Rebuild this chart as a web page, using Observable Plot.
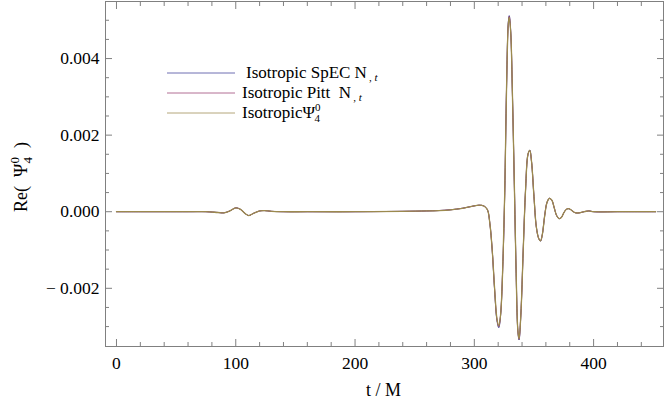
<!DOCTYPE html>
<html>
<head>
<meta charset="utf-8">
<script src="https://cdn.jsdelivr.net/npm/d3@7"></script>
<script src="https://cdn.jsdelivr.net/npm/@observablehq/plot@0.6"></script>
<style>
  html, body { margin: 0; padding: 0; background: #fff; }
  #chart { width: 664px; height: 401px; }
</style>
</head>
<body>
<div id="chart"></div>
<script>
// ---- data ----
const seriesNames = ["Isotropic SpEC N,t", "Isotropic Pitt N,t", "Isotropic Ψ40"];
const seriesColors = ["#3d3d99", "#993d71", "#9c8a4e"];

const tM = [0, 20, 40, 60, 75, 85, 90, 95, 100, 104, 108, 111, 115, 120, 124, 130, 140, 160, 200, 240, 260, 270, 280, 290, 298, 304, 308, 311, 313, 315, 317, 319, 320.5, 322, 324, 325.5, 327, 328.5, 329.3, 330.5, 332, 333.5, 335, 336.5, 337.5, 339, 341, 343, 345, 346.5, 348, 350, 352, 354, 355.5, 357, 359, 361, 363, 365, 367, 369, 371, 373, 375, 377, 379, 381, 383, 385, 388, 392, 396, 400, 420, 452];

const spec = [0, 0, 0, 0, 0, -0.00002, -0.00003, 0.00002, 0.0001, 0.00006, -0.00005, -0.0001, -0.00004, 0.00002, 0.00003, 0.00001, 0, 0, 0, 0.00001, 0.00002, 0.00003, 0.00005, 0.00009, 0.00014, 0.00017, 0.00015, 0.00005, -0.0003, -0.001, -0.00205, -0.00285, -0.00303, -0.00272, -0.0013, 0.0005, 0.00322, 0.00495, 0.00512, 0.00472, 0.0030, 0.0008, -0.0015, -0.00312, -0.00335, -0.0027, -0.001, 0.0006, 0.0015, 0.00161, 0.0013, 0.0004, -0.0004, -0.0007, -0.00077, -0.0006, -0.0001, 0.00025, 0.00035, 0.0003, 0.0001, -0.0001, -0.00018, -0.00015, -0.00003, 0.00006, 0.00008, 0.00005, 0, -0.00003, -0.00003, 0, 0.00002, 0, 0, 0];

const pitt = [0, 0, 0, 0, 0, -0.00002, -0.00003, 0.00002, 0.0001, 0.00006, -0.00005, -0.0001, -0.00004, 0.00002, 0.00003, 0.00001, 0, 0, 0, 0.00001, 0.00002, 0.00003, 0.00005, 0.00009, 0.00014, 0.00017, 0.00015, 0.00005, -0.0003, -0.001, -0.00202, -0.00282, -0.003, -0.0027, -0.0013, 0.0005, 0.0032, 0.00492, 0.0051, 0.0047, 0.0030, 0.0008, -0.0015, -0.0031, -0.00333, -0.0027, -0.001, 0.0006, 0.0015, 0.0016, 0.0013, 0.0004, -0.0004, -0.0007, -0.00076, -0.0006, -0.0001, 0.00025, 0.00035, 0.0003, 0.0001, -0.0001, -0.00018, -0.00015, -0.00003, 0.00006, 0.00008, 0.00005, 0, -0.00003, -0.00003, 0, 0.00002, 0, 0, 0];

const psi4 = [0, 0, 0, 0, 0, -0.00002, -0.00003, 0.00002, 0.0001, 0.00006, -0.00005, -0.0001, -0.00004, 0.00002, 0.00003, 0.00001, 0, 0, 0, 0.00001, 0.00002, 0.00003, 0.00005, 0.00009, 0.00014, 0.00017, 0.00015, 0.00005, -0.0003, -0.001, -0.002, -0.0028, -0.00298, -0.0027, -0.0013, 0.0005, 0.0032, 0.0049, 0.00508, 0.0047, 0.0030, 0.0008, -0.0015, -0.0031, -0.00332, -0.0027, -0.001, 0.0006, 0.0015, 0.0016, 0.0013, 0.0004, -0.0004, -0.0007, -0.00076, -0.0006, -0.0001, 0.00025, 0.00035, 0.0003, 0.0001, -0.0001, -0.00018, -0.00015, -0.00003, 0.00006, 0.00008, 0.00005, 0, -0.00003, -0.00003, 0, 0.00002, 0, 0, 0];

const xMajor = [0, 100, 200, 300, 400];
const xMajorLabels = ["0", "100", "200", "300", "400"];
const xMinor = [20, 40, 60, 80, 120, 140, 160, 180, 220, 240, 260, 280, 320, 340, 360, 380, 420, 440];
const yMajor = [-0.002, 0, 0.002, 0.004];
const yMajorLabels = ["\u2212 0.002", "0.000", "0.002", "0.004"];
const yMinor = [-0.003, -0.0025, -0.0015, -0.001, -0.0005, 0.0005, 0.001, 0.0015, 0.0025, 0.003, 0.0035, 0.0045, 0.005];

// ---- build table ----
const rows = [];
[spec, pitt, psi4].forEach((vals, s) => {
  vals.forEach((v, i) => rows.push({t: tM[i], v, series: seriesNames[s]}));
});

const xLab = new Map(xMajor.map((d, i) => [d, xMajorLabels[i]]));
const yLab = new Map(yMajor.map((d, i) => [d, yMajorLabels[i]]));
const frameColor = "#808080";
const fam = "'Liberation Serif', 'Times New Roman', serif";

const chart = Plot.plot({
  width: 664,
  height: 401,
  marginLeft: 105,
  marginRight: 1,
  marginTop: 1,
  marginBottom: 55,
  x: {domain: [-9.2, 458.6], label: null},
  y: {domain: [-0.00352, 0.00549], label: null},
  style: {fontFamily: fam, fontSize: "17px", color: "#000", background: "#fff"},
  marks: [
    Plot.frame({stroke: frameColor}),
    Plot.axisX(xMajor, {anchor: "bottom", tickSize: -7, tickPadding: 17, tickFormat: d => xLab.get(d), stroke: frameColor, fill: "#000", label: null, fontFamily: fam, fontSize: 17.5}),
    Plot.axisX(xMinor, {anchor: "bottom", tickSize: -4, tickFormat: () => "", stroke: frameColor, label: null}),
    Plot.axisX(xMajor, {anchor: "top", tickSize: -7, tickFormat: () => "", stroke: frameColor, label: null}),
    Plot.axisX(xMinor, {anchor: "top", tickSize: -4, tickFormat: () => "", stroke: frameColor, label: null}),
    Plot.axisY(yMajor, {anchor: "left", tickSize: -7, tickPadding: 13, tickFormat: d => yLab.get(d), stroke: frameColor, fill: "#000", label: null, fontFamily: fam, fontSize: 17.5}),
    Plot.axisY(yMinor, {anchor: "left", tickSize: -4, tickFormat: () => "", stroke: frameColor, label: null}),
    Plot.axisY(yMajor, {anchor: "right", tickSize: -7, tickFormat: () => "", stroke: frameColor, label: null}),
    Plot.axisY(yMinor, {anchor: "right", tickSize: -4, tickFormat: () => "", stroke: frameColor, label: null}),
    Plot.line(rows.filter(r => r.series === seriesNames[0]), {x: "t", y: "v", stroke: seriesColors[0], strokeWidth: 1, curve: "catmull-rom"}),
    Plot.line(rows.filter(r => r.series === seriesNames[1]), {x: "t", y: "v", stroke: seriesColors[1], strokeWidth: 1, curve: "catmull-rom"}),
    Plot.line(rows.filter(r => r.series === seriesNames[2]), {x: "t", y: "v", stroke: seriesColors[2], strokeWidth: 1.3, curve: "catmull-rom"})
  ]
});

document.getElementById("chart").appendChild(chart);

// ---- titles and legend (text with sub/superscripts) ----
const svg = d3.select(chart);

// x axis title
svg.append("text")
  .attr("x", 383.5).attr("y", 396)
  .attr("text-anchor", "middle")
  .attr("font-family", fam).attr("font-size", 18)
  .attr("fill", "#000")
  .text("t / M");

// y axis title: Re(Ψ40) rotated
const yt = svg.append("text")
  .attr("transform", "translate(27,177) rotate(-90)")
  .attr("text-anchor", "middle")
  .attr("font-family", fam).attr("font-size", 18)
  .attr("fill", "#000");
yt.append("tspan").text("Re(\u2002\u03A8");
yt.append("tspan").attr("dy", -8).attr("font-size", 13).text("0");
yt.append("tspan").attr("dx", -6.5).attr("dy", 13).attr("font-size", 13).text("4");
yt.append("tspan").attr("dy", -5).text("\u2002)");

// legend
const legend = svg.append("g")
  .attr("font-family", fam).attr("font-size", 17).attr("fill", "#000")
  .attr("text-anchor", "start");
const legY = [73, 93, 113];
const legTextX = [246, 242, 242];
seriesNames.forEach((name, i) => {
  legend.append("line")
    .attr("x1", 167).attr("x2", 235)
    .attr("y1", legY[i]).attr("y2", legY[i])
    .attr("stroke", seriesColors[i]).attr("stroke-width", 1).attr("stroke-opacity", 0.75);
  const tx = legend.append("text").attr("x", legTextX[i]).attr("y", legY[i] + 5).attr("text-anchor", "start");
  if (i < 2) {
    tx.append("tspan").text(i === 0 ? "Isotropic SpEC N" : "Isotropic Pitt  N");
    tx.append("tspan").attr("dy", 3).attr("font-size", 11).text("\u2009, ");
    tx.append("tspan").attr("font-size", 11).attr("font-style", "italic").text("t");
  } else {
    tx.append("tspan").text("Isotropic\u03A8");
    tx.append("tspan").attr("dy", -7).attr("font-size", 11).text("0");
    tx.append("tspan").attr("dx", -6).attr("dy", 11).attr("font-size", 11).text("4");
  }
});
</script>
</body>
</html>
